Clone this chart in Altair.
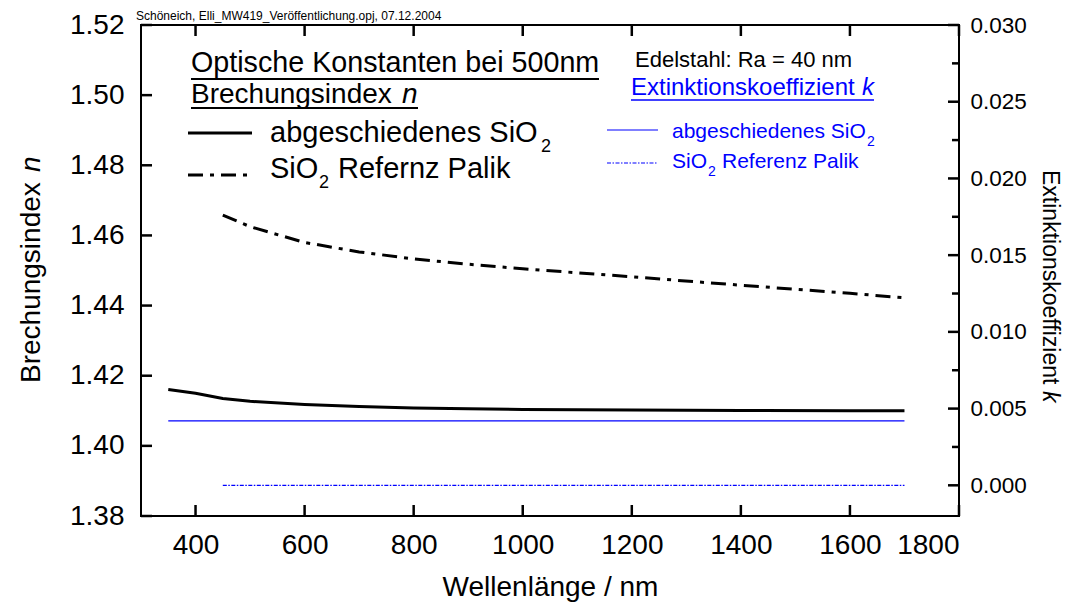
import altair as alt
import pandas as pd

FONT = "Liberation Sans"
BLUE = "#0000FF"

# ---------------- data ----------------
wl_dep = [350, 400, 450, 500, 600, 700, 800, 900, 1000, 1200, 1400, 1600, 1700]
n_dep = [1.4161, 1.4150, 1.4135, 1.4127, 1.4118, 1.4112, 1.4108, 1.4106, 1.4104,
         1.4102, 1.4101, 1.4100, 1.4100]
wl_palik = [450, 500, 600, 700, 800, 900, 1000, 1200, 1400, 1600, 1700]
n_palik = [1.4658, 1.4625, 1.4580, 1.4553, 1.4533, 1.4518, 1.4505, 1.4482,
           1.4458, 1.4435, 1.4422]
wl_k_dep = [350, 1700]
k_dep = [0.0042, 0.0042]
wl_k_palik = [450, 1700]
k_palik = [0.0, 0.0]

x_ticks = [400, 600, 800, 1000, 1200, 1400, 1600, 1800]
n_ticks = [1.38, 1.40, 1.42, 1.44, 1.46, 1.48, 1.50, 1.52]
k_ticks = [0.000, 0.005, 0.010, 0.015, 0.020, 0.025, 0.030]
k_minor = [0.0025, 0.0075, 0.0125, 0.0175, 0.0225, 0.0275]

header_txt = "Schöneich, Elli_MW419_Veröffentlichung.opj, 07.12.2004"
title1_txt = "Optische Konstanten bei 500nm"
title2_txt = "Brechungsindex "
title_k_txt = "Extinktionskoeffizient "
edel_txt = "Edelstahl: Ra = 40 nm"
leg_dep_txt = "abgeschiedenes SiO"
leg_sio_txt = "SiO"
leg_palik_n_txt = "Refernz Palik"
leg_palik_k_txt = "Referenz Palik"
x_title = "Wellenlänge / nm"
y_title = "Brechungsindex "
y2_title = "Extinktionskoeffizient "

df_dep = pd.DataFrame({"wl": wl_dep, "v": n_dep})
df_palik = pd.DataFrame({"wl": wl_palik, "v": n_palik})
df_kdep = pd.DataFrame({"wl": wl_k_dep, "v": k_dep})
df_kpalik = pd.DataFrame({"wl": wl_k_palik, "v": k_palik})
df_xt = pd.DataFrame({"t": x_ticks})
df_nt = pd.DataFrame({"t": n_ticks})
df_kt = pd.DataFrame({"t": k_ticks})
df_km = pd.DataFrame({"t": k_minor})
ann_src = pd.DataFrame({"i": [0]})

W, H = 818, 491

# ---------------- scales / axes ----------------
x_scale = alt.Scale(domain=[300, 1800], nice=False, zero=False)
n_scale = alt.Scale(domain=[1.38, 1.52], nice=False, zero=False)
k_scale = alt.Scale(domain=[-0.002, 0.030], nice=False, zero=False)

common_ax = dict(domain=False, grid=False, ticks=False, tickSize=0,
                 labelColor="black", labelFont=FONT, titleFont=FONT,
                 titleColor="black", titleFontWeight="normal")

ax_bottom = alt.Axis(orient="bottom", values=x_ticks, format="d",
                     labelFontSize=28, labelPadding=15, title=x_title,
                     titleFontSize=28, titlePadding=14, **common_ax)
ax_left = alt.Axis(orient="left", values=n_ticks, format=".2f",
                   labelFontSize=28, labelPadding=17, title=None, **common_ax)
ax_right = alt.Axis(orient="right", values=k_ticks, format=".3f",
                    labelFontSize=22.5, labelPadding=11, title=None, **common_ax)


def line(df, yscale, yax, color, width, dash=None):
    props = dict(color=color, strokeWidth=width, strokeCap="butt")
    if dash:
        props["strokeDash"] = dash
    return alt.Chart(df).mark_line(**props).encode(
        x=alt.X("wl:Q", scale=x_scale, axis=ax_bottom),
        y=alt.Y("v:Q", scale=yscale, axis=yax),
    )


def label(txt, x, y, size, color="black", style="normal", angle=0):
    return alt.Chart(ann_src).mark_text(
        text=txt, font=FONT, fontSize=size, color=color, fontStyle=style,
        align="left", baseline="alphabetic", angle=angle
    ).encode(x=alt.value(x), y=alt.value(y))


def rule(x1, x2, y, color, width, dash=None):
    props = dict(color=color, strokeWidth=width, strokeCap="butt")
    if dash:
        props["strokeDash"] = dash
    return alt.Chart(ann_src).mark_rule(**props).encode(
        x=alt.value(x1), x2=alt.value(x2), y=alt.value(y))


def xticks(ypos, length):
    return alt.Chart(df_xt).mark_tick(color="black", thickness=2.5, size=length,
                                      orient="vertical", opacity=1).encode(
        x=alt.X("t:Q", scale=x_scale, axis=ax_bottom), y=alt.value(ypos))


def yticks(df, scale, ax, xpos, length):
    return alt.Chart(df).mark_tick(color="black", thickness=2.5, size=length,
                                   orient="horizontal", opacity=1).encode(
        y=alt.Y("t:Q", scale=scale, axis=ax), x=alt.value(xpos))


DD = [15, 7, 4, 7]
DOT = [4, 1.5, 1.5, 1.5]
TL = 11  # major tick length (half sits under the frame line)

left_group = alt.layer(
    line(df_dep, n_scale, ax_left, "black", 3),
    line(df_palik, n_scale, ax_left, "black", 3, DD),
    # rotated axis title with italic n
    label(y_title, -101, 358, 28, angle=270),
    label("n", -101, 147, 28, style="italic", angle=270),
    # header + n legend
    label(header_txt, -5, -5, 12),
    label(title1_txt, 50, 47, 28.7),
    rule(50, 458, 54, "black", 2),
    label(title2_txt, 50, 78, 28),
    label("n", 261, 78, 28, style="italic"),
    rule(50, 277, 83, "black", 2),
    rule(47, 111, 108, "black", 3),
    label(leg_dep_txt, 129, 117, 29),
    label("2", 400, 127, 18),
    rule(47, 111, 150, "black", 3, DD),
    label(leg_sio_txt, 129, 153, 29),
    label("2", 178, 163, 18),
    label(leg_palik_n_txt, 197, 153, 29),
    # k legend
    label(edel_txt, 494, 42, 22),
    label(title_k_txt, 490, 70, 24, color=BLUE),
    label("k", 721, 70, 24, color=BLUE, style="italic"),
    rule(490, 733, 75, BLUE, 1.5),
    rule(466, 517, 105, BLUE, 1.2),
    label(leg_dep_txt, 531, 113, 21, color=BLUE),
    label("2", 726, 121, 14, color=BLUE),
    rule(466, 517, 138, BLUE, 1.2, DOT),
    label(leg_sio_txt, 531, 143, 21, color=BLUE),
    label("2", 567, 151, 14, color=BLUE),
    label(leg_palik_k_txt, 581, 143, 21, color=BLUE),
    # rotated right axis title with italic k
    label(y2_title, 902, 145, 23, angle=90),
    label("k", 902, 366, 23, style="italic", angle=90),
    # inward ticks (bottom, top, left)
    xticks(H - TL / 2, TL),
    xticks(TL / 2, TL),
    yticks(df_nt, n_scale, ax_left, TL / 2, TL),
)

right_group = alt.layer(
    line(df_kdep, k_scale, ax_right, BLUE, 1.2),
    line(df_kpalik, k_scale, ax_right, BLUE, 1.2, DOT),
    yticks(df_kt, k_scale, ax_right, W - TL / 2, TL),
    yticks(df_km, k_scale, ax_right, W - 3.5, 7),
)

chart = alt.layer(left_group, right_group).resolve_scale(
    y="independent"
).properties(
    width=W, height=H,
    autosize=alt.AutoSizeParams(type="none"),
    padding={"left": 141, "top": 25, "right": 106, "bottom": 88},
    background="white",
).configure_view(stroke="black", strokeWidth=2)

chart.save("out.html", embed_options={"renderer": "svg", "actions": False})
